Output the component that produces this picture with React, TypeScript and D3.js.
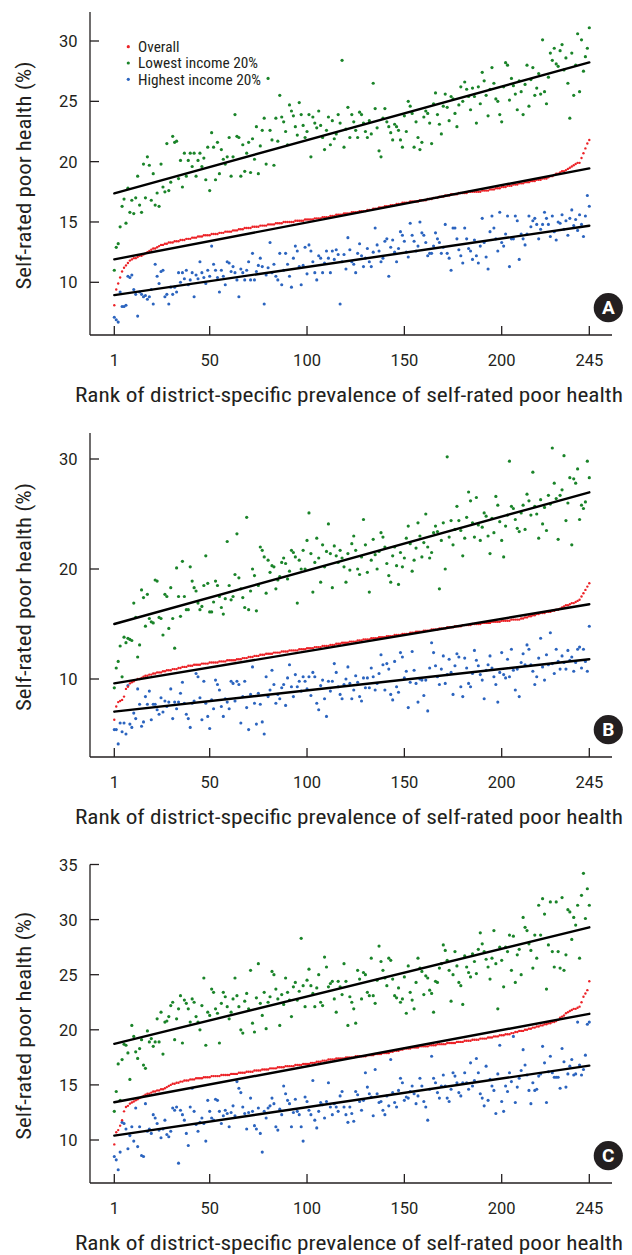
import React, { useEffect } from 'react'
import * as d3 from 'd3'

// ranks 1..245 of district-specific prevalence; one value per rank in every series
const xTicks = [1, 50, 100, 150, 200, 245]
const yTicksA = [10, 15, 20, 25, 30]
const yTicksB = [10, 20, 30]
const yTicksC = [10, 15, 20, 25, 30, 35]
const legendLabels = ['Overall', 'Lowest income 20%', 'Highest income 20%']
const panelLetters = ['A', 'B', 'C']

// fitted lines, value at rank 1 and at rank 245: [A, B, C]
const fitOverall = [[11.9, 19.44], [9.6, 16.8], [13.43, 21.45]]
const fitLowest = [[17.37, 28.23], [15.0, 26.97], [18.73, 29.3]]
const fitHighest = [[8.94, 14.69], [7.03, 11.8], [10.4, 16.75]]

// ---- panel A ----
const overallA = [
  8.1, 9.4, 9.9, 10.4, 10.9, 11.2, 11.4, 11.6, 11.8, 11.9,
  12.0, 12.0, 12.1, 12.2, 12.2, 12.3, 12.4, 12.5, 12.6, 12.7,
  12.8, 12.8, 12.9, 13.0, 13.1, 13.1, 13.2, 13.2, 13.3, 13.3,
  13.3, 13.4, 13.4, 13.4, 13.5, 13.5, 13.5, 13.6, 13.6, 13.6,
  13.7, 13.7, 13.7, 13.8, 13.8, 13.8, 13.9, 13.9, 13.9, 13.9,
  14.0, 14.0, 14.0, 14.0, 14.1, 14.1, 14.1, 14.2, 14.2, 14.2,
  14.2, 14.3, 14.3, 14.3, 14.4, 14.4, 14.4, 14.5, 14.5, 14.5,
  14.5, 14.6, 14.6, 14.6, 14.6, 14.7, 14.7, 14.7, 14.7, 14.8,
  14.8, 14.8, 14.8, 14.9, 14.9, 14.9, 14.9, 15.0, 15.0, 15.0,
  15.0, 15.0, 15.0, 15.1, 15.1, 15.1, 15.1, 15.1, 15.2, 15.2,
  15.2, 15.2, 15.2, 15.3, 15.3, 15.3, 15.3, 15.4, 15.4, 15.4,
  15.4, 15.5, 15.5, 15.5, 15.6, 15.6, 15.6, 15.6, 15.7, 15.7,
  15.7, 15.7, 15.8, 15.8, 15.8, 15.8, 15.9, 15.9, 15.9, 15.9,
  16.0, 16.0, 16.0, 16.1, 16.1, 16.1, 16.2, 16.2, 16.2, 16.3,
  16.3, 16.3, 16.4, 16.4, 16.4, 16.5, 16.5, 16.5, 16.6, 16.6,
  16.6, 16.6, 16.7, 16.7, 16.7, 16.7, 16.7, 16.8, 16.8, 16.8,
  16.8, 16.9, 16.9, 16.9, 17.0, 17.0, 17.0, 17.1, 17.1, 17.1,
  17.2, 17.2, 17.2, 17.3, 17.3, 17.3, 17.3, 17.4, 17.4, 17.4,
  17.4, 17.4, 17.5, 17.5, 17.5, 17.5, 17.5, 17.5, 17.5, 17.6,
  17.6, 17.6, 17.6, 17.7, 17.7, 17.7, 17.8, 17.8, 17.8, 17.9,
  17.9, 17.9, 18.0, 18.0, 18.0, 18.1, 18.1, 18.1, 18.2, 18.2,
  18.2, 18.3, 18.3, 18.3, 18.4, 18.4, 18.4, 18.5, 18.5, 18.5,
  18.6, 18.6, 18.6, 18.7, 18.8, 18.8, 18.9, 19.0, 19.0, 19.1,
  19.2, 19.2, 19.3, 19.4, 19.5, 19.6, 19.7, 19.8, 19.9, 19.9,
  20.3, 20.7, 21.1, 21.5, 21.8,
]
const lowestA = [
  11.0, 12.9, 13.2, 14.6, 16.3, 16.9, 14.9, 17.8, 15.8, 16.8,
  15.7, 17.0, 18.8, 16.4, 15.8, 19.8, 17.0, 20.4, 19.7, 16.8,
  19.0, 16.4, 17.4, 16.3, 19.8, 17.9, 17.5, 21.5, 17.6, 18.3,
  22.1, 21.6, 21.7, 18.6, 20.1, 17.9, 20.7, 18.8, 20.1, 20.7,
  19.6, 20.7, 18.8, 20.1, 20.7, 19.6, 20.3, 18.5, 21.2, 17.6,
  22.4, 21.2, 18.5, 21.6, 19.0, 21.0, 20.2, 19.8, 20.4, 22.0,
  18.8, 20.4, 23.9, 22.1, 22.0, 18.8, 21.4, 19.2, 20.7, 21.6,
  19.1, 21.9, 20.2, 22.9, 19.0, 21.3, 22.6, 23.6, 19.8, 26.9,
  22.6, 21.8, 19.7, 23.6, 21.7, 25.5, 23.7, 23.3, 22.5, 21.4,
  24.7, 24.2, 23.8, 22.9, 22.2, 24.9, 23.9, 23.0, 22.0, 22.5,
  23.9, 20.4, 23.7, 23.2, 22.8, 24.2, 23.0, 22.0, 21.0, 22.6,
  23.7, 21.4, 23.4, 21.9, 22.3, 23.9, 23.2, 28.4, 21.2, 22.7,
  24.5, 22.0, 23.9, 23.3, 22.6, 22.0, 24.1, 23.9, 23.2, 22.5,
  22.0, 23.4, 22.3, 26.5, 24.4, 22.8, 20.9, 20.4, 23.6, 24.4,
  23.3, 22.9, 22.4, 21.8, 23.1, 22.9, 22.6, 21.8, 21.2, 23.8,
  22.5, 25.0, 24.6, 24.0, 21.2, 23.3, 22.0, 21.0, 21.6, 23.7,
  24.2, 24.0, 23.2, 21.5, 24.8, 25.7, 23.9, 23.1, 22.3, 24.6,
  25.6, 24.5, 23.4, 25.4, 25.2, 24.0, 22.9, 24.7, 26.2, 25.0,
  26.6, 26.0, 25.4, 24.3, 26.1, 25.4, 23.2, 26.2, 24.8, 27.4,
  26.7, 25.5, 23.8, 26.0, 27.8, 26.5, 25.2, 25.0, 23.9, 23.3,
  26.2, 28.2, 28.0, 25.1, 26.9, 26.3, 25.6, 24.3, 26.7, 25.8,
  23.9, 26.4, 28.0, 24.6, 26.8, 27.8, 25.5, 26.1, 27.3, 25.6,
  30.1, 25.8, 24.8, 27.0, 29.0, 28.4, 29.4, 28.1, 27.9, 29.2,
  29.7, 27.6, 28.6, 26.5, 23.6, 29.0, 25.5, 28.0, 30.6, 25.8,
  30.1, 27.5, 28.7, 29.4, 31.1,
]
const highestA = [
  7.1, 6.9, 6.7, 9.2, 8.0, 8.0, 8.1, 10.5, 10.4, 10.6,
  9.4, 9.0, 7.2, 9.2, 9.0, 8.8, 8.9, 8.6, 8.8, 9.4,
  8.2, 11.5, 10.5, 9.9, 10.9, 11.0, 8.8, 9.0, 8.2, 9.6,
  9.0, 9.6, 9.2, 10.8, 10.0, 10.8, 10.3, 11.0, 9.8, 10.2,
  10.8, 8.8, 10.6, 10.3, 11.7, 10.8, 10.4, 9.9, 11.0, 10.5,
  13.0, 11.5, 11.0, 10.4, 9.2, 11.0, 10.5, 9.8, 11.7, 11.6,
  10.9, 11.3, 10.8, 10.2, 8.8, 11.1, 10.8, 10.2, 11.0, 11.7,
  10.2, 12.4, 10.2, 10.9, 11.4, 12.0, 11.3, 8.2, 10.6, 11.2,
  13.3, 10.8, 11.5, 10.5, 10.2, 12.4, 9.8, 11.0, 12.4, 11.5,
  10.5, 9.6, 12.0, 13.0, 12.6, 11.3, 9.8, 11.4, 12.9, 10.7,
  13.1, 12.6, 11.7, 10.8, 10.2, 12.2, 12.0, 10.8, 11.6, 12.6,
  12.0, 10.8, 12.6, 11.9, 12.7, 12.3, 8.2, 11.7, 12.3, 11.1,
  13.7, 12.7, 11.7, 11.5, 10.8, 12.4, 13.2, 12.2, 11.3, 12.0,
  12.8, 11.7, 11.3, 12.5, 14.5, 13.1, 12.6, 11.7, 12.0, 13.4,
  13.6, 10.5, 12.9, 13.5, 12.5, 11.7, 12.8, 14.2, 13.9, 13.4,
  12.5, 12.1, 14.9, 13.9, 13.4, 12.6, 13.0, 15.0, 14.1, 13.9,
  13.3, 12.2, 12.4, 12.4, 13.0, 14.1, 13.6, 13.3, 12.4, 12.9,
  14.8, 12.4, 12.0, 11.0, 14.5, 14.5, 13.6, 12.7, 12.2, 11.6,
  14.5, 13.6, 12.8, 12.6, 11.9, 13.5, 12.2, 11.6, 13.0, 15.3,
  13.3, 12.1, 11.1, 14.2, 15.5, 14.5, 13.6, 12.6, 15.8, 13.3,
  13.0, 14.0, 15.5, 11.3, 13.6, 13.6, 15.5, 15.1, 11.9, 14.0,
  13.6, 13.1, 14.0, 15.5, 14.6, 15.1, 15.3, 14.8, 13.6, 14.4,
  14.8, 15.8, 15.3, 14.8, 13.8, 15.5, 14.2, 13.5, 15.0, 14.9,
  15.6, 14.4, 15.1, 13.9, 15.3, 16.0, 14.7, 15.2, 14.3, 15.6,
  14.8, 13.8, 15.5, 17.2, 16.3,
]

// ---- panel B ----
const overallB = [
  6.3, 7.5, 7.9, 8.0, 8.1, 8.4, 9.1, 9.3, 9.6, 9.7,
  9.8, 9.9, 10.0, 10.0, 10.1, 10.2, 10.3, 10.3, 10.4, 10.4,
  10.5, 10.5, 10.6, 10.6, 10.6, 10.7, 10.7, 10.8, 10.8, 10.8,
  10.9, 10.9, 10.9, 11.0, 11.0, 11.1, 11.1, 11.1, 11.2, 11.2,
  11.2, 11.3, 11.3, 11.3, 11.3, 11.4, 11.4, 11.4, 11.4, 11.5,
  11.5, 11.5, 11.5, 11.5, 11.6, 11.6, 11.6, 11.6, 11.7, 11.7,
  11.7, 11.7, 11.7, 11.8, 11.8, 11.8, 11.9, 11.9, 11.9, 12.0,
  12.0, 12.0, 12.1, 12.1, 12.1, 12.2, 12.2, 12.2, 12.3, 12.3,
  12.3, 12.3, 12.4, 12.4, 12.4, 12.4, 12.5, 12.5, 12.5, 12.5,
  12.6, 12.6, 12.6, 12.6, 12.6, 12.7, 12.7, 12.7, 12.7, 12.8,
  12.8, 12.8, 12.8, 12.9, 12.9, 12.9, 12.9, 13.0, 13.0, 13.0,
  13.0, 13.1, 13.1, 13.1, 13.2, 13.2, 13.2, 13.3, 13.3, 13.3,
  13.3, 13.4, 13.4, 13.4, 13.4, 13.5, 13.5, 13.5, 13.6, 13.6,
  13.6, 13.6, 13.7, 13.7, 13.7, 13.7, 13.8, 13.8, 13.8, 13.8,
  13.9, 13.9, 13.9, 13.9, 14.0, 14.0, 14.0, 14.0, 14.1, 14.1,
  14.1, 14.1, 14.2, 14.2, 14.2, 14.3, 14.3, 14.3, 14.3, 14.4,
  14.4, 14.4, 14.4, 14.5, 14.5, 14.5, 14.5, 14.6, 14.6, 14.6,
  14.6, 14.7, 14.7, 14.7, 14.7, 14.8, 14.8, 14.8, 14.8, 14.9,
  14.9, 14.9, 14.9, 14.9, 15.0, 15.0, 15.0, 15.0, 15.0, 15.1,
  15.1, 15.1, 15.1, 15.1, 15.2, 15.2, 15.2, 15.2, 15.2, 15.3,
  15.3, 15.3, 15.3, 15.3, 15.4, 15.4, 15.4, 15.4, 15.4, 15.5,
  15.5, 15.6, 15.6, 15.7, 15.7, 15.8, 15.8, 15.9, 15.9, 16.0,
  16.0, 16.0, 16.1, 16.1, 16.1, 16.2, 16.2, 16.3, 16.3, 16.4,
  16.5, 16.6, 16.7, 16.7, 16.8, 16.9, 16.9, 17.0, 17.1, 17.2,
  17.5, 17.8, 18.1, 18.4, 18.7,
]
const lowestB = [
  9.2, 11.0, 11.6, 13.0, 10.2, 13.8, 13.3, 13.7, 13.6, 13.5,
  16.9, 15.6, 12.0, 13.1, 18.1, 17.4, 14.8, 17.7, 15.5, 15.2,
  15.1, 19.0, 18.9, 15.6, 15.5, 14.0, 17.7, 17.5, 14.6, 18.3,
  15.5, 12.8, 20.1, 17.5, 15.7, 20.7, 17.5, 16.3, 16.3, 20.2,
  18.9, 18.3, 18.0, 16.9, 16.3, 16.6, 18.5, 21.2, 18.7, 16.1,
  16.1, 17.0, 18.9, 18.5, 17.5, 16.5, 15.9, 17.3, 22.5, 18.5,
  17.2, 17.5, 19.5, 23.2, 19.2, 18.2, 17.4, 16.5, 24.7, 16.3,
  18.0, 20.0, 19.4, 16.2, 18.5, 22.0, 21.7, 21.1, 17.8, 20.8,
  19.7, 20.3, 20.2, 18.2, 19.0, 19.3, 20.6, 21.0, 20.5, 19.1,
  19.8, 21.7, 21.5, 21.1, 16.9, 20.8, 20.0, 21.7, 20.0, 22.6,
  25.1, 21.4, 17.9, 20.6, 22.8, 21.0, 18.8, 22.2, 20.2, 21.6,
  24.1, 21.4, 18.3, 22.1, 21.2, 20.6, 21.7, 21.0, 20.2, 18.8,
  21.4, 19.9, 22.3, 23.0, 21.7, 20.0, 19.5, 21.1, 24.5, 22.2,
  19.7, 17.9, 20.8, 22.7, 21.3, 20.0, 21.6, 23.3, 22.9, 22.0,
  20.5, 19.4, 18.8, 21.2, 22.0, 20.3, 18.6, 21.5, 20.2, 21.0,
  22.8, 23.9, 22.3, 19.8, 20.8, 21.9, 24.2, 23.0, 21.1, 22.4,
  25.0, 22.0, 21.0, 21.5, 23.3, 23.9, 23.4, 18.2, 22.6, 24.2,
  20.0, 30.2, 22.9, 24.4, 22.2, 23.6, 25.7, 24.4, 23.5, 21.2,
  22.8, 24.7, 27.0, 26.2, 24.2, 22.9, 26.5, 24.0, 22.6, 23.8,
  25.1, 24.8, 23.0, 21.4, 24.6, 23.3, 26.6, 25.8, 24.3, 22.6,
  21.1, 23.9, 24.9, 29.8, 25.7, 25.5, 24.5, 23.7, 23.4, 25.1,
  25.8, 23.6, 26.8, 26.2, 24.9, 28.8, 25.7, 25.0, 22.8, 26.3,
  24.1, 25.6, 23.5, 26.7, 25.9, 31.0, 27.8, 26.4, 22.7, 26.7,
  27.2, 30.3, 24.4, 26.0, 28.3, 22.2, 28.2, 27.8, 29.1, 24.5,
  25.8, 25.5, 26.1, 29.8, 28.3,
]
const highestB = [
  5.4, 5.4, 4.1, 6.0, 5.2, 6.0, 5.0, 9.4, 5.9, 5.6,
  6.9, 6.4, 9.1, 7.7, 5.7, 6.1, 8.4, 7.7, 8.9, 6.3,
  7.7, 7.7, 7.2, 6.8, 8.3, 7.0, 8.0, 7.5, 7.9, 9.1,
  6.4, 7.9, 7.3, 7.9, 8.7, 9.7, 7.8, 6.8, 6.4, 5.6,
  7.8, 8.0, 10.5, 10.2, 8.3, 6.3, 9.8, 7.8, 6.6, 5.5,
  8.1, 7.3, 9.9, 9.5, 9.0, 7.5, 6.6, 8.2, 7.9, 7.3,
  9.8, 9.6, 8.0, 9.8, 9.5, 6.0, 8.4, 9.8, 7.4, 5.4,
  8.6, 11.1, 7.8, 5.9, 8.7, 7.7, 6.1, 5.0, 10.2, 8.4,
  9.0, 10.8, 9.5, 7.8, 8.6, 8.2, 9.2, 9.5, 7.6, 10.1,
  11.3, 9.3, 8.4, 10.4, 9.3, 9.8, 8.9, 10.2, 9.8, 9.1,
  10.2, 8.5, 10.6, 10.2, 7.8, 7.2, 9.4, 9.9, 8.2, 6.6,
  9.8, 8.9, 9.8, 11.4, 10.6, 9.3, 8.6, 8.2, 9.5, 10.0,
  11.1, 9.6, 8.2, 9.0, 10.3, 9.7, 8.4, 8.0, 10.1, 9.2,
  10.1, 9.2, 11.0, 10.2, 9.0, 9.6, 10.5, 12.2, 11.3, 9.0,
  11.4, 10.9, 8.6, 8.1, 11.6, 9.3, 8.8, 12.4, 12.0, 10.1,
  10.7, 7.4, 9.7, 12.5, 10.8, 9.6, 7.9, 10.0, 9.9, 8.5,
  9.9, 7.1, 11.0, 13.3, 12.4, 11.2, 10.2, 9.5, 10.9, 12.1,
  9.6, 10.4, 11.8, 10.6, 8.6, 11.2, 12.3, 12.0, 9.3, 8.4,
  11.9, 11.0, 9.6, 9.3, 10.5, 12.6, 11.7, 11.2, 10.4, 9.9,
  8.2, 10.8, 11.3, 12.1, 11.0, 10.2, 9.5, 7.9, 10.6, 12.4,
  10.4, 10.1, 11.8, 10.2, 12.7, 10.8, 9.0, 10.9, 8.4, 11.5,
  12.3, 11.3, 13.1, 12.7, 11.3, 10.7, 9.5, 10.2, 11.9, 13.7,
  11.1, 9.9, 12.2, 11.3, 14.2, 11.4, 10.5, 12.7, 11.6, 10.9,
  12.1, 11.5, 10.9, 12.6, 11.7, 12.0, 10.7, 11.5, 12.7, 12.9,
  11.0, 12.7, 11.6, 10.7, 14.8,
]

// ---- panel C ----
const overallC = [
  9.6, 10.7, 10.9, 11.3, 11.8, 12.6, 13.0, 13.1, 13.3, 13.4,
  13.5, 13.6, 13.7, 13.8, 13.9, 14.0, 14.1, 14.2, 14.2, 14.3,
  14.4, 14.4, 14.5, 14.5, 14.6, 14.6, 14.7, 14.8, 14.9, 15.0,
  15.1, 15.1, 15.2, 15.2, 15.3, 15.3, 15.4, 15.4, 15.4, 15.5,
  15.5, 15.5, 15.6, 15.6, 15.6, 15.6, 15.7, 15.7, 15.7, 15.7,
  15.8, 15.8, 15.8, 15.8, 15.8, 15.9, 15.9, 15.9, 15.9, 15.9,
  16.0, 16.0, 16.0, 16.0, 16.1, 16.1, 16.1, 16.1, 16.2, 16.2,
  16.2, 16.2, 16.3, 16.3, 16.3, 16.3, 16.4, 16.4, 16.4, 16.4,
  16.5, 16.5, 16.5, 16.5, 16.6, 16.6, 16.6, 16.6, 16.7, 16.7,
  16.7, 16.7, 16.7, 16.8, 16.8, 16.8, 16.8, 16.9, 16.9, 16.9,
  16.9, 17.0, 17.0, 17.0, 17.1, 17.1, 17.1, 17.2, 17.2, 17.2,
  17.3, 17.3, 17.3, 17.3, 17.4, 17.4, 17.4, 17.4, 17.4, 17.5,
  17.5, 17.5, 17.5, 17.5, 17.6, 17.6, 17.6, 17.6, 17.6, 17.6,
  17.7, 17.7, 17.7, 17.7, 17.8, 17.8, 17.8, 17.8, 17.9, 17.9,
  17.9, 17.9, 18.0, 18.0, 18.1, 18.1, 18.1, 18.2, 18.2, 18.3,
  18.3, 18.3, 18.3, 18.4, 18.4, 18.4, 18.4, 18.5, 18.5, 18.5,
  18.5, 18.5, 18.6, 18.6, 18.6, 18.6, 18.7, 18.7, 18.7, 18.7,
  18.7, 18.8, 18.8, 18.8, 18.8, 18.8, 18.9, 18.9, 18.9, 18.9,
  19.0, 19.0, 19.0, 19.0, 19.1, 19.1, 19.1, 19.1, 19.2, 19.2,
  19.2, 19.2, 19.3, 19.3, 19.3, 19.4, 19.4, 19.4, 19.5, 19.5,
  19.5, 19.6, 19.6, 19.6, 19.7, 19.7, 19.8, 19.8, 19.9, 19.9,
  19.9, 20.0, 20.0, 20.1, 20.1, 20.2, 20.2, 20.3, 20.3, 20.4,
  20.4, 20.5, 20.5, 20.6, 20.6, 20.7, 20.7, 20.8, 20.9, 21.1,
  21.2, 21.3, 21.5, 21.6, 21.7, 21.8, 21.9, 21.9, 22.0, 22.1,
  22.5, 23.0, 23.3, 23.6, 24.4,
]
const lowestC = [
  12.6, 14.4, 16.9, 13.6, 17.3, 18.7, 18.6, 17.9, 15.5, 20.4,
  19.4, 18.0, 17.4, 18.3, 19.1, 16.8, 16.5, 19.9, 18.9, 19.2,
  18.5, 18.9, 21.0, 18.9, 21.6, 17.8, 20.7, 20.8, 21.2, 22.2,
  22.5, 19.1, 21.0, 21.9, 23.1, 18.8, 22.7, 22.4, 21.9, 20.7,
  22.8, 22.5, 21.2, 20.7, 20.0, 22.2, 24.7, 18.6, 21.6, 21.3,
  23.7, 23.4, 21.9, 21.5, 18.8, 22.4, 23.4, 23.0, 22.1, 21.0,
  21.6, 22.8, 24.7, 23.1, 22.1, 20.0, 19.7, 22.6, 23.3, 21.9,
  25.4, 20.6, 19.8, 22.9, 26.0, 22.4, 21.3, 23.4, 20.1, 22.5,
  23.0, 25.3, 25.0, 23.7, 22.8, 20.4, 23.2, 22.3, 24.7, 23.4,
  22.7, 21.2, 23.9, 24.3, 22.7, 23.5, 28.3, 24.0, 22.1, 24.5,
  25.5, 24.0, 23.3, 22.1, 23.8, 25.0, 22.5, 22.2, 26.6, 25.7,
  23.9, 24.2, 24.4, 22.8, 21.6, 24.4, 23.9, 23.2, 26.0, 24.4,
  20.4, 23.0, 22.5, 21.9, 20.6, 25.4, 24.6, 22.8, 25.2, 25.0,
  23.4, 23.1, 26.5, 23.1, 22.4, 24.5, 27.6, 26.2, 25.4, 24.7,
  24.0, 26.5, 26.3, 24.6, 23.1, 22.9, 23.8, 22.5, 22.8, 24.8,
  21.5, 25.8, 23.4, 22.7, 21.9, 24.3, 26.5, 25.6, 25.3, 23.2,
  24.9, 24.7, 23.6, 23.3, 21.6, 24.4, 24.3, 25.6, 26.0, 27.7,
  27.2, 26.3, 25.4, 22.6, 25.0, 27.1, 25.8, 24.3, 24.0, 22.3,
  26.7, 25.7, 25.2, 24.8, 26.9, 26.2, 25.1, 27.3, 28.8, 27.8,
  27.1, 26.4, 25.7, 24.6, 26.5, 29.0, 26.0, 21.9, 27.5, 26.3,
  23.9, 27.5, 27.1, 28.6, 25.4, 28.5, 24.3, 26.8, 27.3, 25.0,
  30.2, 29.3, 29.0, 27.8, 27.2, 25.6, 28.6, 26.5, 31.3, 28.6,
  31.9, 30.5, 23.7, 27.7, 31.6, 27.1, 25.7, 31.6, 27.1, 25.6,
  32.0, 25.4, 26.8, 30.9, 30.7, 28.2, 30.2, 29.5, 31.3, 26.5,
  32.2, 34.2, 30.1, 32.8, 31.3,
]
const highestC = [
  8.5, 8.2, 7.3, 8.9, 11.6, 11.5, 11.0, 9.2, 10.4, 11.2,
  9.9, 12.9, 9.4, 11.2, 8.6, 8.5, 13.3, 10.8, 11.0, 10.6,
  12.3, 12.0, 11.5, 10.9, 10.2, 11.0, 11.8, 10.5, 10.3, 10.8,
  12.9, 12.7, 13.0, 7.9, 12.7, 12.3, 11.8, 10.6, 9.5, 13.0,
  14.7, 12.6, 11.4, 10.8, 11.6, 12.0, 11.5, 9.9, 13.6, 12.6,
  12.0, 11.8, 13.7, 13.6, 12.6, 11.5, 12.2, 12.7, 12.4, 11.2,
  12.5, 13.1, 12.2, 15.3, 14.7, 14.3, 13.0, 12.4, 11.0, 12.5,
  13.8, 12.6, 11.3, 11.0, 12.9, 10.6, 8.9, 12.6, 12.0, 12.9,
  13.1, 13.8, 13.3, 11.2, 10.9, 12.8, 12.3, 14.9, 14.2, 13.6,
  13.3, 11.2, 12.5, 13.7, 12.6, 12.3, 11.2, 9.9, 13.9, 13.5,
  12.7, 12.3, 15.4, 11.8, 11.1, 12.6, 13.4, 13.2, 12.0, 13.5,
  15.2, 13.0, 12.3, 13.3, 13.0, 12.6, 14.0, 14.4, 13.0, 12.3,
  11.6, 13.0, 12.4, 11.7, 14.4, 14.1, 13.5, 12.7, 13.6, 16.1,
  14.8, 14.2, 13.9, 12.2, 16.4, 14.2, 13.4, 13.5, 12.7, 12.3,
  14.0, 13.1, 17.3, 14.3, 13.4, 13.0, 14.5, 15.6, 15.2, 13.6,
  13.9, 13.8, 14.4, 14.9, 14.2, 13.3, 14.0, 15.6, 14.9, 13.5,
  13.0, 11.8, 14.6, 17.6, 15.6, 15.2, 14.3, 13.8, 14.9, 15.9,
  14.9, 13.8, 13.5, 14.6, 16.1, 15.8, 15.2, 14.3, 14.0, 15.2,
  16.1, 15.2, 14.6, 17.0, 14.9, 15.4, 17.4, 16.1, 14.2, 13.8,
  13.1, 16.7, 13.6, 15.5, 14.9, 14.5, 12.4, 16.0, 18.6, 13.5,
  12.6, 14.9, 14.4, 16.1, 15.3, 19.4, 13.4, 14.8, 15.6, 16.3,
  18.2, 16.8, 15.9, 14.5, 13.3, 15.2, 14.5, 14.6, 15.8, 16.0,
  18.5, 17.0, 13.4, 16.2, 17.6, 16.1, 15.7, 15.7, 15.7, 14.7,
  18.3, 17.1, 14.8, 16.0, 16.7, 17.3, 15.9, 16.0, 20.7, 16.8,
  15.9, 16.4, 17.7, 20.5, 20.7,
]

const ink = '#231f20'
const colors = { overall: '#ec2227', lowest: '#1a8429', highest: '#2b64bf' }
const dotSize = { overall: 1.2, lowest: 1.6, highest: 1.55 }
const tickFont = 'Roboto, "Noto Sans", sans-serif'
const titleFont = '"Liberation Sans Narrow", "Roboto Condensed", Roboto, sans-serif'

const panels = [
  { axisTop: 12, axisBottom: 335, domain: [10, 30], range: [282.3, 41], yTicks: yTicksA,
    overall: overallA, lowest: lowestA, highest: highestA, legend: true },
  { axisTop: 433, axisBottom: 757, domain: [10, 30], range: [679, 459], yTicks: yTicksB,
    overall: overallB, lowest: lowestB, highest: highestB, legend: false },
  { axisTop: 864.5, axisBottom: 1183, domain: [10, 35], range: [1140, 864.5], yTicks: yTicksC,
    overall: overallC, lowest: lowestC, highest: highestC, legend: false },
]

const x = d3.scaleLinear().domain([1, 245]).range([114.3, 589.3])
const axisLeftX = 90
const axisRightX = 612

function Panel({ p, i }) {
  const y = d3.scaleLinear().domain(p.domain).range(p.range)
  const line = d3.line<[number, number]>().x(d => x(d[0])).y(d => y(d[1]))
  const fitPath = (f: number[]) => line([[1, f[0]], [245, f[1]]]) || ''
  const series = [
    { key: 'lowest', values: p.lowest },
    { key: 'highest', values: p.highest },
    { key: 'overall', values: p.overall },
  ]
  const yCenter = (p.axisTop + p.axisBottom) / 2 + 2

  return (
    <g>
      {series.map(s => (
        <g key={s.key} fill={colors[s.key]}>
          {s.values.map((v, k) => (
            <circle key={k} cx={x(k + 1)} cy={y(v)} r={dotSize[s.key]} />
          ))}
        </g>
      ))}
      <g fill="none" stroke="#000" strokeWidth={2.4} strokeLinecap="round">
        <path d={fitPath(fitLowest[i])} />
        <path d={fitPath(fitOverall[i])} />
        <path d={fitPath(fitHighest[i])} />
      </g>

      {/* axes */}
      <g stroke={ink} strokeWidth={1.3} fill="none">
        <line x1={axisLeftX} x2={axisLeftX} y1={p.axisTop} y2={p.axisBottom} />
        <line x1={axisLeftX} x2={axisRightX} y1={p.axisBottom} y2={p.axisBottom} />
        {p.yTicks.map(t => (
          <line key={t} x1={axisLeftX} x2={axisLeftX + 9} y1={y(t)} y2={y(t)} />
        ))}
        {xTicks.map(t => (
          <line key={t} x1={x(t)} x2={x(t)} y1={p.axisBottom} y2={p.axisBottom - 9} />
        ))}
      </g>
      <g fill={ink} fontFamily={tickFont} fontSize={16.5}>
        {p.yTicks.map(t => (
          <text key={t} x={77.5} y={y(t) + 6} textAnchor="end">{t}</text>
        ))}
        {xTicks.map(t => (
          <text key={t} x={x(t)} y={p.axisBottom + 30.5} textAnchor="middle">{t}</text>
        ))}
      </g>
      <text x={75} y={p.axisBottom + 67} fill={ink} fontFamily={titleFont} fontSize={20.5}
        textLength={548} lengthAdjust="spacingAndGlyphs">
        Rank of district-specific prevalence of self-rated poor health
      </text>
      <text transform={`translate(31,${yCenter}) rotate(-90)`} textAnchor="middle" fill={ink}
        fontFamily={titleFont} fontSize={20.5} textLength={228} lengthAdjust="spacingAndGlyphs">
        Self-rated poor health (%)
      </text>

      {/* panel letter */}
      <circle cx={608.3} cy={p.axisBottom - 27.3} r={14.6} fill={ink} />
      <text x={608.3} y={p.axisBottom - 20.6} textAnchor="middle" fill="#fff"
        fontFamily={tickFont} fontWeight={700} fontSize={19}>
        {panelLetters[i]}
      </text>

      {p.legend && (
        <g fontFamily={titleFont} fontSize={15} fill={ink}>
          {legendLabels.map((lab, k) => {
            const key = ['overall', 'lowest', 'highest'][k]
            const ly = 46.7 + k * 16.3
            return (
              <g key={lab}>
                <circle cx={128.3} cy={ly} r={1.6} fill={colors[key]} />
                <text x={138} y={ly + 5.2} textLength={[41.5, 120, 123][k]}
                  lengthAdjust="spacingAndGlyphs">{lab}</text>
              </g>
            )
          })}
        </g>
      )}
    </g>
  )
}

export default function App() {
  useEffect(() => {
    document.body.style.margin = '0'
  }, [])
  return (
    <svg width={632} height={1255} viewBox="0 0 632 1255" style={{ display: 'block', background: '#fff' }}>
      {panels.map((p, i) => <Panel key={i} p={p} i={i} />)}
    </svg>
  )
}
